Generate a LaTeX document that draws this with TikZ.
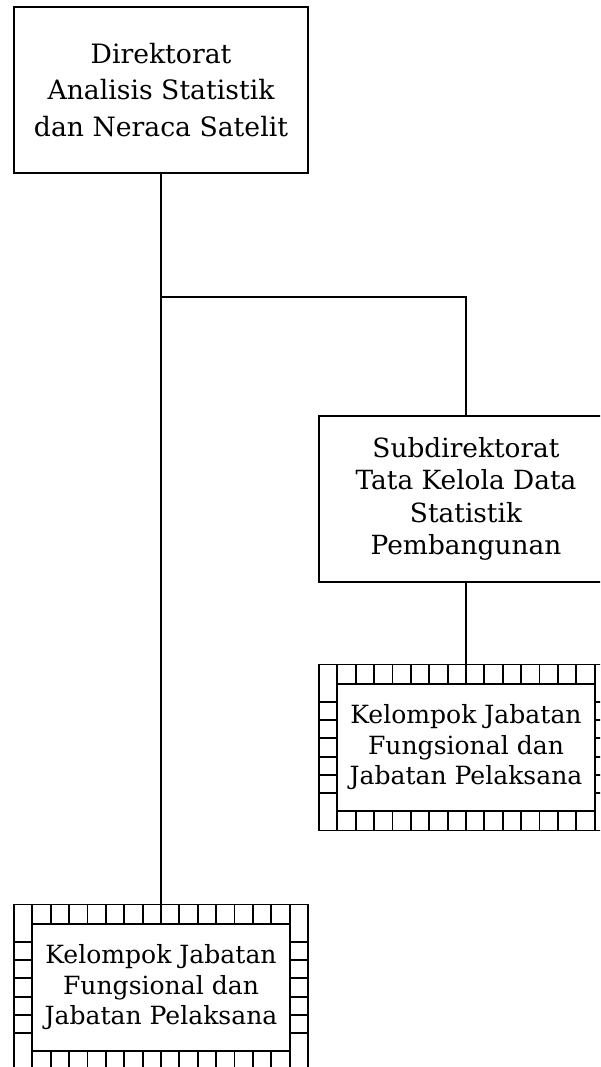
\documentclass[tikz,border=0pt]{standalone}
\usepackage{fontspec}
\setmainfont{DejaVu Serif}
\usetikzlibrary{calc}
\tikzset{
  unitbox/.style={draw=black, line width=1.4pt, fill=white, rectangle, outer sep=0pt, inner sep=0pt,
    minimum width=220.5pt, minimum height=124.5pt, align=center, font=\fontsize{20pt}{27pt}\selectfont},
  hatchbox/.style={unitbox},
  conn/.style={draw=black, line width=1.4pt},
  hatchline/.style={draw=black, line width=1.4pt},
}
\newcommand\hatchframe[1]{%
  \begin{scope}[shift={(#1.center)}]
    \draw[hatchline] (-128.7,-63.7) rectangle (128.7,63.7);
    \foreach \k in {0,...,14} {
      \draw[hatchline] ({-128.7+\k*18.3857},-83) -- ({-128.7+\k*18.3857},-63.7);
      \draw[hatchline] ({-128.7+\k*18.3857},83) -- ({-128.7+\k*18.3857},63.7);
    }
    \foreach \k in {1,...,6} {
      \draw[hatchline] (-147,{-63.7+\k*18.2}) -- (-128.7,{-63.7+\k*18.2});
      \draw[hatchline] (147,{-63.7+\k*18.2}) -- (128.7,{-63.7+\k*18.2});
    }
  \end{scope}}
\begin{document}
\begin{tikzpicture}[x=0.75pt,y=-0.75pt]
  \useasboundingbox (0,0) rectangle (600,1067);
  \clip (0,0) rectangle (600,1067);
  \node[unitbox, font=\fontsize{20pt}{27.4pt}\selectfont] (dir) at (161,90) {Direktorat\\Analisis Statistik\\dan Neraca Satelit};
  \node[unitbox, font=\fontsize{19.8pt}{24.2pt}\selectfont] (sub) at (466,499) {Subdirektorat\\Tata Kelola Data\\Statistik\\Pembangunan};
  \node[hatchbox, font=\fontsize{18.8pt}{22.9pt}\selectfont] (kj1) at (466,747.5) {Kelompok Jabatan\\Fungsional dan\\Jabatan Pelaksana};
  \node[hatchbox, font=\fontsize{18.8pt}{22.9pt}\selectfont] (kj2) at (161,987.5) {Kelompok Jabatan\\Fungsional dan\\Jabatan Pelaksana};
  \hatchframe{kj1}
  \hatchframe{kj2}
  \coordinate (br) at (dir.south |- 0,297);
  \draw[conn] (dir.south) -- (kj2.north);
  \draw[conn] (br) -| (sub.north);
  \draw[conn] (sub.south) -- (kj1.north);
\end{tikzpicture}
\end{document}
